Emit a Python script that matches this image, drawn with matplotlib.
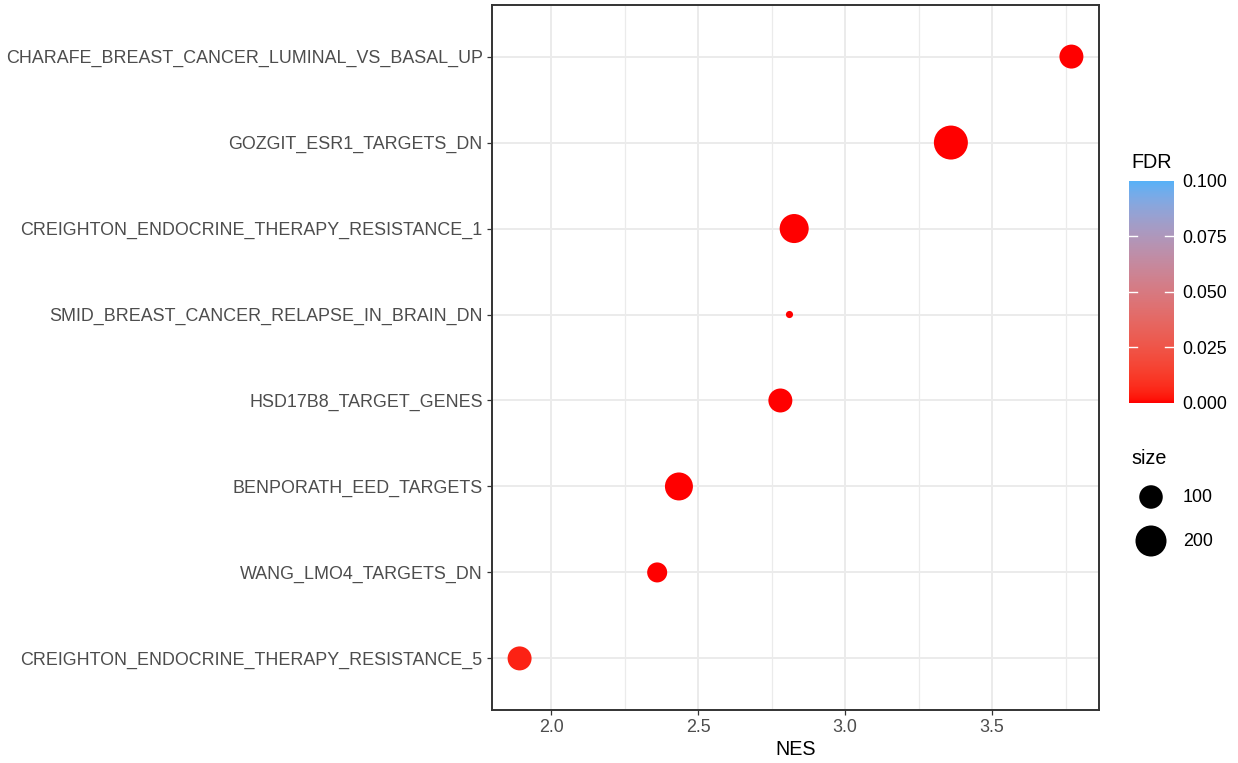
import numpy as np
import matplotlib
matplotlib.use("Agg")
import matplotlib.pyplot as plt
from matplotlib.colors import ListedColormap, Normalize
from matplotlib.cm import ScalarMappable

plt.rcParams['font.family'] = ['Liberation Sans', 'DejaVu Sans']

# Gene sets, listed from the bottom row of the plot to the top row
pathways = [
    "CREIGHTON_ENDOCRINE_THERAPY_RESISTANCE_5",
    "WANG_LMO4_TARGETS_DN",
    "BENPORATH_EED_TARGETS",
    "HSD17B8_TARGET_GENES",
    "SMID_BREAST_CANCER_RELAPSE_IN_BRAIN_DN",
    "CREIGHTON_ENDOCRINE_THERAPY_RESISTANCE_1",
    "GOZGIT_ESR1_TARGETS_DN",
    "CHARAFE_BREAST_CANCER_LUMINAL_VS_BASAL_UP",
]
nes = [1.893, 2.361, 2.435, 2.780, 2.811, 2.827, 3.360, 3.770]
set_size = [105, 66, 155, 105, 11, 170, 250, 105]
fdr = [0.0049, 0.0, 0.0, 0.0, 0.0, 0.0, 0.0, 0.0]

fdr_limits = (0.0, 0.1)
fdr_ticks = [0.0, 0.025, 0.05, 0.075, 0.1]
size_breaks = [100, 200]

DPI = 100
PX_PER_PT_R = 1.887          # device pixels per R point
TICK_FS = 12.9
TITLE_FS = 14.2


# ---- colour scale: red -> light blue, interpolated in CIELAB ----
def srgb_to_lab(rgb):
    c = np.asarray(rgb, float)
    lin = np.where(c <= 0.04045, c / 12.92, ((c + 0.055) / 1.055) ** 2.4)
    M = np.array([[0.4124564, 0.3575761, 0.1804375],
                  [0.2126729, 0.7151522, 0.0721750],
                  [0.0193339, 0.1191920, 0.9503041]])
    xyz = M @ lin / np.array([0.95047, 1.0, 1.08883])
    d = 6 / 29
    f = np.where(xyz > d ** 3, np.cbrt(xyz), xyz / (3 * d * d) + 4 / 29)
    return np.array([116 * f[1] - 16, 500 * (f[0] - f[1]), 200 * (f[1] - f[2])])


def lab_to_srgb(lab):
    L, a, b = lab
    fy = (L + 16) / 116
    fx = fy + a / 500
    fz = fy - b / 200
    d = 6 / 29
    f = np.array([fx, fy, fz])
    xyz = np.where(f > d, f ** 3, 3 * d * d * (f - 4 / 29)) * np.array([0.95047, 1.0, 1.08883])
    Minv = np.array([[3.2404542, -1.5371385, -0.4985314],
                     [-0.9692660, 1.8760108, 0.0415560],
                     [0.0556434, -0.2040259, 1.0572252]])
    lin = Minv @ xyz
    lin = np.clip(lin, 0, 1)
    c = np.where(lin <= 0.0031308, 12.92 * lin, 1.055 * lin ** (1 / 2.4) - 0.055)
    return np.clip(c, 0, 1)


low_lab = srgb_to_lab([1.0, 0.0, 0.0])
high_lab = srgb_to_lab([0x56 / 255, 0xB1 / 255, 0xF7 / 255])
ts = np.linspace(0, 1, 256)
cmap = ListedColormap([lab_to_srgb(low_lab + t * (high_lab - low_lab)) for t in ts])
norm = Normalize(*fdr_limits)


# ---- size scale: area-proportional, radius range 1..6 (R points) ----
smin, smax = min(set_size), max(set_size)


def marker_area(v):
    v = np.asarray(v, float)
    r = 1 + 5 * np.sqrt((v - smin) / (smax - smin))
    d_px = PX_PER_PT_R * (2.845 * r + 0.945)
    d_pt = d_px * 72 / DPI
    return d_pt ** 2


W, H = 1238, 763
fig = plt.figure(figsize=(W / DPI, H / DPI), dpi=DPI)
fig.patch.set_facecolor("white")

x0, x1, y0, y1 = 492, 1099, 5, 710
ax = fig.add_axes([x0 / W, 1 - y1 / H, (x1 - x0) / W, (y1 - y0) / H])

ypos = np.arange(1, len(pathways) + 1)
ax.scatter(nes, ypos, s=marker_area(set_size), c=fdr, cmap=cmap, norm=norm,
           edgecolors="none", zorder=3)

ax.set_ylim(0.4, len(pathways) + 0.6)
ax.margins(x=0.05)
ax.set_yticks(ypos)
ax.set_yticklabels(pathways)
ax.set_xticks([2.0, 2.5, 3.0, 3.5])
ax.set_xticklabels(["2.0", "2.5", "3.0", "3.5"])
ax.set_xticks([2.25, 2.75, 3.25, 3.75], minor=True)

ax.grid(True, which="major", color="#EBEBEB", linewidth=1.4, zorder=0)
ax.grid(True, which="minor", axis="x", color="#EBEBEB", linewidth=0.9, zorder=0)
ax.set_axisbelow(True)
ax.tick_params(axis="both", which="major", length=3.7, width=0.9, color="#333333",
               labelsize=TICK_FS, labelcolor="#4D4D4D", pad=3)
ax.tick_params(axis="x", which="minor", length=0)
for sp in ax.spines.values():
    sp.set_color("#333333")
    sp.set_linewidth(1.4)
ax.set_xlabel("NES", fontsize=TITLE_FS, color="black", labelpad=3)

# ---- colour bar legend ----
cb_x0, cb_x1, cb_y0, cb_y1 = 1129, 1174, 181, 403
cax = fig.add_axes([cb_x0 / W, 1 - cb_y1 / H, (cb_x1 - cb_x0) / W, (cb_y1 - cb_y0) / H])
cb = fig.colorbar(ScalarMappable(norm=norm, cmap=cmap), cax=cax, ticks=fdr_ticks)
cb.outline.set_visible(False)
cb.ax.set_yticklabels([f"{t:.3f}" for t in fdr_ticks])
cb.ax.tick_params(length=0, labelsize=TICK_FS, labelcolor="black", pad=6)
for t in fdr_ticks[1:-1]:
    cax.plot([0, 0.18], [t, t], color="white", linewidth=1.0, transform=cax.get_yaxis_transform())
    cax.plot([0.80, 1.0], [t, t], color="white", linewidth=1.0, transform=cax.get_yaxis_transform())

fig.text(1131 / W, 1 - 162 / H, "FDR", fontsize=TITLE_FS, ha="left", va="center")

# ---- size legend ----
lax = fig.add_axes([0, 0, 1, 1], facecolor="none")
lax.set_xlim(0, W)
lax.set_ylim(H, 0)
lax.axis("off")
fig.text(1131 / W, 1 - 458 / H, "size", fontsize=TITLE_FS, ha="left", va="center")
for i, b in enumerate(size_breaks):
    yy = 497 + i * 44
    lax.scatter([1151], [yy], s=marker_area(b), color="black", edgecolors="none")
    lax.text(1183, yy, str(b), fontsize=TICK_FS, ha="left", va="center")

fig.savefig("out.png", dpi=DPI)
